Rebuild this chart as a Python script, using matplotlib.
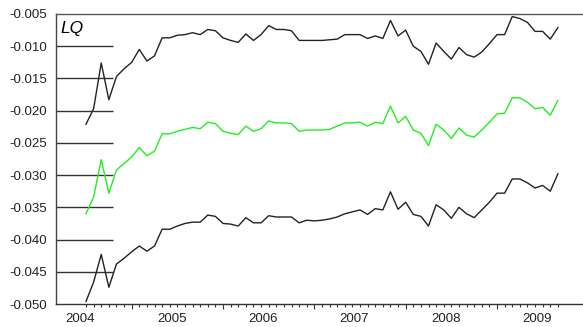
import numpy as np
import matplotlib
matplotlib.use("Agg")
import matplotlib.pyplot as plt
import matplotlib.transforms as mtransforms

# monthly values, Jan 2004 .. Mar 2009
upper = [-0.0221, -0.0197, -0.0126, -0.0183, -0.0147, -0.0135, -0.0125, -0.0105,
         -0.0123, -0.0115, -0.0087, -0.0087, -0.0083, -0.0082, -0.0079, -0.0082,
         -0.0074, -0.0076, -0.0087, -0.0091, -0.0094, -0.0081, -0.0091, -0.0082,
         -0.0068, -0.0074, -0.0074, -0.0076, -0.0091, -0.0091, -0.0091, -0.0091,
         -0.0090, -0.0089, -0.0082, -0.0082, -0.0082, -0.0088, -0.0084, -0.0088,
         -0.0060, -0.0084, -0.0075, -0.0100, -0.0108, -0.0128, -0.0095, -0.0108,
         -0.0120, -0.0102, -0.0113, -0.0117, -0.0109, -0.0096, -0.0082, -0.0082,
         -0.0054, -0.0057, -0.0063, -0.0077, -0.0077, -0.0089, -0.0071]
middle = [-0.0360, -0.0334, -0.0276, -0.0328, -0.0292, -0.0282, -0.0272, -0.0257,
          -0.0270, -0.0263, -0.0236, -0.0236, -0.0232, -0.0229, -0.0226, -0.0228,
          -0.0218, -0.0220, -0.0232, -0.0235, -0.0237, -0.0224, -0.0232, -0.0228,
          -0.0216, -0.0219, -0.0219, -0.0220, -0.0232, -0.0230, -0.0230, -0.0230,
          -0.0229, -0.0224, -0.0219, -0.0219, -0.0218, -0.0224, -0.0218, -0.0220,
          -0.0193, -0.0219, -0.0209, -0.0230, -0.0235, -0.0254, -0.0221, -0.0230,
          -0.0243, -0.0227, -0.0238, -0.0241, -0.0230, -0.0218, -0.0205, -0.0204,
          -0.0180, -0.0180, -0.0187, -0.0197, -0.0195, -0.0207, -0.0184]
lower = [-0.0496, -0.0466, -0.0423, -0.0474, -0.0438, -0.0429, -0.0419, -0.0410,
         -0.0418, -0.0410, -0.0384, -0.0384, -0.0379, -0.0375, -0.0373, -0.0373,
         -0.0362, -0.0364, -0.0375, -0.0376, -0.0379, -0.0366, -0.0374, -0.0374,
         -0.0363, -0.0365, -0.0365, -0.0365, -0.0374, -0.0370, -0.0371, -0.0370,
         -0.0368, -0.0365, -0.0360, -0.0357, -0.0354, -0.0361, -0.0352, -0.0354,
         -0.0326, -0.0353, -0.0342, -0.0361, -0.0364, -0.0379, -0.0346, -0.0354,
         -0.0367, -0.0350, -0.0360, -0.0366, -0.0354, -0.0342, -0.0328, -0.0328,
         -0.0306, -0.0306, -0.0312, -0.0320, -0.0316, -0.0325, -0.0298]
years = ['2004', '2005', '2006', '2007', '2008', '2009']
yticks = [-0.050, -0.045, -0.040, -0.035, -0.030, -0.025, -0.020, -0.015, -0.010, -0.005]

plt.rcParams['font.family'] = ['Liberation Sans', 'DejaVu Sans']

x = np.arange(len(upper))
month_labels = [years[i // 12] if i % 12 == 0 else '' for i in x]

fig = plt.figure(figsize=(5.83, 3.27), dpi=100)
ax = fig.add_axes([0.0961, 0.0703, 0.9039, 0.8869])

ax.plot(x, upper, color='#222222', lw=1.0)
ax.plot(x, middle, color='#22ee22', lw=1.0)
ax.plot(x, lower, color='#222222', lw=1.0)

ax.set_xlim(-3.94, 65.3)
ax.set_ylim(-0.050, -0.005)

ax.set_yticks(yticks, labels=[f"{v:.3f}" for v in yticks])
ax.tick_params(axis='y', direction='in', length=41, width=1.0, color='#333333',
               pad=6.5, labelsize=9.5, labelcolor='#222222')
# the end ticks sit on the spines
ticks = ax.yaxis.get_major_ticks()
ticks[0].tick1line.set_visible(False)
ticks[-1].tick1line.set_visible(False)

ax.set_xticks(x, labels=month_labels, minor=True)
ax.set_xticks([i for i in x if i % 12 == 6], labels=[])
ax.tick_params(axis='x', which='minor', direction='out', length=1.8, width=0.8,
               color='#333333', pad=4.5, labelsize=9.5, labelcolor='#222222')
ax.tick_params(axis='x', which='major', direction='out', length=3.6, width=0.8,
               color='#333333')
shift = mtransforms.ScaledTranslation(-5.5 / 100, 0, fig.dpi_scale_trans)
for lbl in ax.get_xticklabels(minor=True):
    lbl.set_transform(lbl.get_transform() + shift)

ax.spines['right'].set_visible(False)
ax.spines['top'].set_color('#555555')
ax.spines['left'].set_color('#444444')
ax.spines['bottom'].set_color('#333333')
for s in ax.spines.values():
    s.set_linewidth(1.0)

ax.text(0.009, 0.975, 'LQ', transform=ax.transAxes, fontsize=12.5, style='italic',
        ha='left', va='top', color='black')

fig.savefig('out.png', dpi=100)
